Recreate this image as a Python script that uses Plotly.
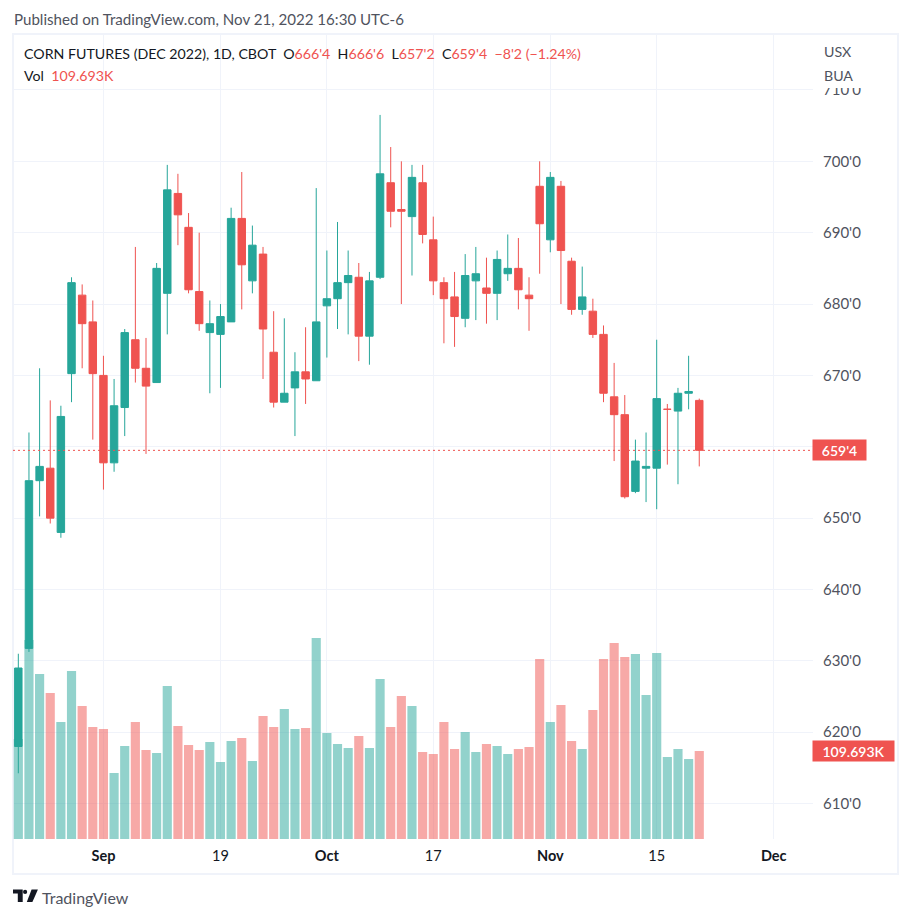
import plotly.graph_objects as go

UP = "#26a69a"
DOWN = "#ef5350"
GRID = "#f0f3fa"
FONT = "Lato"

# Aug 22 2022 onward, one row per trading session
opens = [618.0, 631.75, 655.25, 657.0, 648.0, 670.25, 681.25, 677.5, 670.0, 657.75, 665.5, 675.0, 671.0, 669.0,
         681.5, 695.5, 690.75, 681.75, 676.0, 675.75, 677.5, 692.0, 683.25, 687.0, 673.25, 666.25, 668.25, 670.5,
         669.25, 679.75, 680.75, 683.0, 683.75, 675.5, 683.75, 697.0, 693.25, 692.25, 697.0, 689.0, 683.0, 681.0,
         678.0, 683.25, 682.25, 681.5, 684.25, 685.0, 681.25, 696.5, 689.0, 696.5, 686.0, 679.25, 679.0, 675.75,
         667.0, 664.5, 653.75, 657.0, 657.0, 665.25, 665.0, 667.5, 666.5]
highs = [631.0, 662.0, 671.0, 666.5, 665.75, 683.75, 682.75, 680.5, 672.75, 669.5, 676.5, 688.0, 675.25, 685.75,
         699.5, 698.25, 692.75, 690.0, 680.5, 680.0, 693.5, 698.5, 691.0, 688.0, 679.0, 678.0, 673.25, 676.75,
         696.25, 687.5, 691.5, 687.5, 685.75, 684.5, 706.5, 702.0, 700.0, 699.5, 699.5, 692.25, 683.75, 684.5,
         687.0, 688.0, 686.5, 687.5, 689.75, 689.25, 683.75, 700.0, 698.5, 697.25, 686.5, 685.25, 680.75, 677.0,
         671.75, 667.25, 661.0, 662.0, 675.0, 666.0, 668.25, 672.75, 666.75]
lows = [614.25, 631.25, 650.25, 649.25, 647.25, 666.25, 671.0, 661.0, 654.0, 656.5, 661.5, 669.0, 659.0, 669.0,
        675.75, 688.25, 681.5, 676.25, 667.5, 668.25, 677.5, 679.25, 681.5, 669.5, 665.5, 666.25, 661.5, 666.0,
        669.25, 672.5, 676.5, 675.75, 672.0, 671.5, 683.5, 690.75, 680.0, 684.0, 688.5, 681.25, 674.5, 674.0,
        676.75, 677.75, 677.25, 677.75, 683.25, 679.25, 676.25, 684.25, 687.25, 680.0, 678.5, 678.5, 675.25, 666.25,
        658.0, 652.75, 653.5, 652.25, 651.25, 657.5, 654.75, 665.25, 657.25]
closes = [629.0, 655.25, 657.25, 650.0, 664.25, 683.0, 677.25, 670.25, 657.75, 665.75, 676.0, 671.0, 668.5, 685.0,
          696.0, 692.5, 682.0, 677.25, 677.25, 678.25, 692.0, 685.5, 688.25, 676.5, 666.25, 667.5, 670.5, 669.5,
          677.5, 680.75, 683.0, 684.0, 675.5, 683.25, 698.25, 693.0, 693.0, 697.75, 689.75, 683.25, 680.75, 678.25,
          684.0, 684.25, 681.5, 686.25, 685.0, 682.0, 680.75, 691.25, 697.75, 687.5, 679.25, 681.0, 675.75, 667.5,
          664.5, 653.0, 658.0, 657.25, 666.75, 665.25, 667.5, 667.75, 659.5]
volumes = [124.7, 248.0, 205.7, 182.0, 145.8, 209.4, 165.8, 139.6, 137.1, 82.3, 115.9, 145.8, 110.9, 107.2,
           190.7, 140.9, 117.2, 110.9, 120.9, 96.0, 122.2, 125.9, 97.2, 153.3, 139.6, 162.0, 137.1, 138.4,
           250.5, 132.1, 118.4, 113.4, 128.4, 113.4, 199.4, 139.6, 178.2, 165.8, 108.4, 106.0, 145.8, 112.2,
           133.4, 108.4, 118.4, 115.9, 106.0, 112.2, 114.7, 224.4, 145.8, 167.0, 122.2, 112.2, 160.8, 224.4,
           244.3, 226.9, 230.6, 179.5, 231.8, 102.2, 112.2, 99.7, 109.693]

date_ticks = [8, 19, 29, 39, 50, 60, 71]
date_labels = ["<b>Sep</b>", "19", "<b>Oct</b>", "17", "<b>Nov</b>", "15", "<b>Dec</b>"]
price_ticks = [610, 620, 630, 640, 650, 660, 670, 680, 690, 700, 710]
# 660 sits behind the last price tag
price_labels = ["610'0", "620'0", "630'0", "640'0", "650'0", "", "670'0", "680'0", "690'0", "700'0", "710'0"]

sessions = list(range(len(closes)))
vol_colors = ["rgba(38,166,154,0.5)" if c >= o else "rgba(239,83,80,0.5)" for o, c in zip(opens, closes)]


# page pixels to paper coordinates, plot area runs 13-813 by 35-839
def px(x):
    return (x - 13) / 800


def py(y):
    return (839 - y) / 804


def label(x, y, text, size=14.2, color="#131722", **kw):
    return dict(xref="paper", yref="paper", x=px(x), y=py(y), text=text, showarrow=False, xanchor="left",
                yanchor="middle", font=dict(family=FONT, size=size, color=color), **kw)


fig = go.Figure()
fig.add_trace(go.Bar(x=sessions, y=volumes, marker=dict(color=vol_colors, line_width=0), width=0.86, yaxis="y"))
fig.add_trace(go.Candlestick(
    x=sessions, open=opens, high=highs, low=lows, close=closes, yaxis="y2", whiskerwidth=0,
    increasing=dict(line=dict(color=UP, width=1), fillcolor=UP),
    decreasing=dict(line=dict(color=DOWN, width=1), fillcolor=DOWN),
))

red = lambda s: f'<span style="color:{DOWN}">{s}</span>'
header = ("CORN FUTURES (DEC 2022), 1D, CBOT &nbsp;O" + red("666'4") + " &nbsp;H" + red("666'6") + " &nbsp;L" + red("657'2")
          + " &nbsp;C" + red("659'4") + " &nbsp;" + red("−8'2 (−1.24%)"))

annotations = [
    label(12, 19, "Published on TradingView.com, Nov 21, 2022 16:30 UTC-6", size=15.1, color="#50535e"),
    label(22, 54, header),
    label(22, 75, "Vol &nbsp;" + red("109.693K")),
    label(822, 51, "USX", color="#50535e"),
    label(822, 75, "BUA", color="#50535e"),
    label(40, 897, "TradingView", size=16, color="#50535e"),
    dict(xref="paper", yref="y2", x=px(812), y=closes[-1], text="659'4", showarrow=False, xanchor="left",
         width=51, height=18, bgcolor=DOWN, font=dict(family=FONT, size=14, color="white", weight=600)),
    dict(xref="paper", yref="y", x=px(812), y=volumes[-1], text="109.693K", showarrow=False, xanchor="left",
         width=79, height=18, bgcolor=DOWN, font=dict(family=FONT, size=14, color="white", weight=600)),
]

logo = "M {} {} L {} {} L {} {} L {} {} L {} {} L {} {} Z".format(
    px(13), py(889.5), px(22.7), py(889.5), px(22.7), py(902), px(17.8), py(902), px(17.8), py(893.6), px(13), py(893.6))
logo2 = "M {} {} L {} {} L {} {} L {} {} Z".format(
    px(31.6), py(889.5), px(37.9), py(889.5), px(32.4), py(902), px(26.8), py(902))

shapes = [
    dict(type="rect", xref="paper", yref="paper", x0=px(13), x1=px(898), y0=py(874), y1=py(34),
         line=dict(color=GRID, width=2), layer="below"),
    # the scale buttons hide the top of the price scale
    dict(type="rect", xref="paper", yref="paper", x0=px(814), x1=px(897), y0=py(88), y1=py(35),
         fillcolor="white", line_width=0, layer="above"),
    dict(type="line", xref="paper", yref="y2", x0=0, x1=px(812), y0=closes[-1], y1=closes[-1],
         line=dict(color=DOWN, width=1, dash="2px,3px"), layer="above"),
    dict(type="path", xref="paper", yref="paper", path=logo, fillcolor="#131722", line_width=0),
    dict(type="path", xref="paper", yref="paper", path=logo2, fillcolor="#131722", line_width=0),
    dict(type="circle", xref="paper", yref="paper", x0=px(23), x1=px(27.2), y0=py(894), y1=py(889.8),
         fillcolor="#131722", line_width=0),
]

# the page body has an 8px margin, so the figure is 8px smaller each way
fig.update_layout(
    width=904, height=910, showlegend=False, plot_bgcolor="white", paper_bgcolor="white",
    margin=dict(l=5, r=99, t=27, b=79), boxgap=0.3, boxgroupgap=0, annotations=annotations, shapes=shapes,
    font=dict(family=FONT, size=14, color="#131722"),
    xaxis=dict(range=[-0.5, 74.69], tickmode="array", tickvals=date_ticks, ticktext=date_labels, showgrid=True,
               gridcolor=GRID, zeroline=False, showline=False, ticks="", rangeslider=dict(visible=False),
               tickfont=dict(family=FONT, size=14.5, color="#131722"), ticklabelstandoff=6),
    yaxis=dict(range=[0, 1002.2], visible=False, showgrid=False, zeroline=False),
    yaxis2=dict(range=[605.04, 717.7], overlaying="y", side="right", tickmode="array", tickvals=price_ticks,
                ticktext=price_labels, showgrid=True, gridcolor=GRID, zeroline=False, showline=False, ticks="",
                tickfont=dict(family=FONT, size=15, color="#50535e"), ticklabelstandoff=9),
)

fig.write_html("out.html")
